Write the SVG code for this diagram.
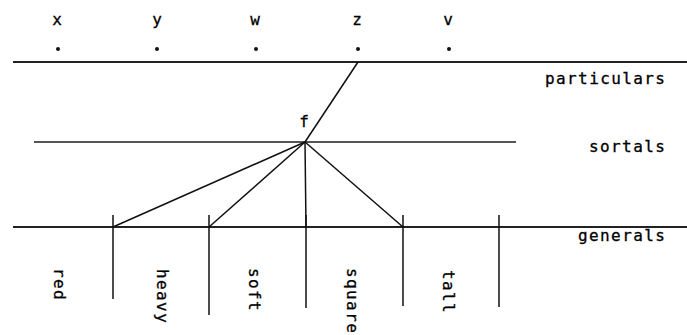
<svg xmlns="http://www.w3.org/2000/svg" width="687" height="335" viewBox="0 0 687 335">
<style>
text{font-family:"DejaVu Sans Mono","Liberation Mono",monospace;font-size:16px;letter-spacing:1.4px;fill:#000;stroke:#000;stroke-width:0.3}
.c{text-anchor:middle;letter-spacing:0}
.ln{stroke:#111;stroke-width:1.5;fill:none}
.lev{stroke:#222;stroke-width:1.8;fill:none}
.dot{fill:#111}
</style>
<rect width="687" height="335" fill="#fff"/>
<g id="levels">
<line class="lev" x1="13" y1="62" x2="687" y2="62"/>
<line class="lev" x1="34" y1="142" x2="516" y2="142" style="stroke:#555"/>
<line class="lev" x1="13" y1="227" x2="687" y2="227"/>
<text x="545" y="84">particulars</text>
<text x="589" y="152">sortals</text>
<text x="578" y="241">generals</text>
</g>
<g id="particulars">
<g id="px"><text class="c" x="57" y="25">x</text><circle class="dot" cx="58" cy="49" r="2"/></g>
<g id="py"><text class="c" x="157" y="25">y</text><circle class="dot" cx="157" cy="49" r="2"/></g>
<g id="pw"><text class="c" x="255" y="25">w</text><circle class="dot" cx="256" cy="49" r="2"/></g>
<g id="pz"><text class="c" x="357" y="25">z</text><circle class="dot" cx="358" cy="49" r="2"/></g>
<g id="pv"><text class="c" x="448" y="25">v</text><circle class="dot" cx="449" cy="49" r="2"/></g>
</g>
<g id="f"><text class="c" x="304" y="127">f</text></g>
<g id="generals">
<g id="g-red"><line class="ln" x1="113" y1="215" x2="113" y2="299"/><text x="0" y="0" transform="translate(54,268) rotate(90)">red</text></g>
<g id="g-heavy"><line class="ln" x1="209" y1="215" x2="209" y2="315"/><text x="0" y="0" transform="translate(157,269) rotate(90)">heavy</text></g>
<g id="g-soft"><line class="ln" x1="306" y1="215" x2="306" y2="308"/><text x="0" y="0" transform="translate(249,268) rotate(90)">soft</text></g>
<g id="g-square"><line class="ln" x1="403" y1="215" x2="403" y2="306"/><text x="0" y="0" transform="translate(347,268) rotate(90)">square</text></g>
<g id="g-tall"><line class="ln" x1="499" y1="215" x2="499" y2="307"/><text x="0" y="0" transform="translate(443,270) rotate(90)">tall</text></g>
</g>
<g id="connectors">
<line class="ln" x1="358" y1="62" x2="305" y2="142"/>
<line class="ln" x1="305" y1="142" x2="113" y2="227"/>
<line class="ln" x1="305" y1="142" x2="209" y2="227"/>
<line class="ln" x1="305" y1="142" x2="306" y2="227"/>
<line class="ln" x1="305" y1="142" x2="403" y2="227"/>
</g>
</svg>
